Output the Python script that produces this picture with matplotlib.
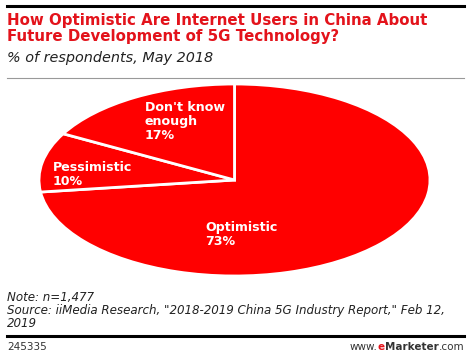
import matplotlib
matplotlib.use("Agg")
import matplotlib.pyplot as plt
from matplotlib.lines import Line2D

categories = ["Optimistic", "Pessimistic", "Don't know\nenough"]
values = [73, 10, 17]
label_pos = [(-0.15, -0.43), (-0.93, 0.20), (-0.46, 0.82)]

title = "How Optimistic Are Internet Users in China About\nFuture Development of 5G Technology?"
subtitle = "% of respondents, May 2018"
note = "Note: n=1,477\nSource: iiMedia Research, \"2018-2019 China 5G Industry Report,\" Feb 12,\n2019"

W, H = 470, 358
fig = plt.figure(figsize=(W/100, H/100), dpi=100)
fam = ["DejaVu Sans"]

def fx(px): return px / W
def fy(py): return 1 - py / H

# rules
fig.add_artist(Line2D([fx(7), fx(464)], [fy(6), fy(6)], color="black", lw=2.2))
fig.add_artist(Line2D([fx(7), fx(464)], [fy(78), fy(78)], color="#999999", lw=0.8))
fig.add_artist(Line2D([fx(7), fx(464)], [fy(336), fy(336)], color="black", lw=2.2))

fig.text(fx(7), fy(13), title, color="#e3131b", fontsize=10.8, fontweight="bold",
         va="top", ha="left", linespacing=1.1, family=fam)
fig.text(fx(7), fy(51), subtitle, color="#222222", fontsize=10.4, style="italic",
         va="top", ha="left", family=fam)
fig.text(fx(7), fy(291), note, color="#222222", fontsize=8.6, style="italic",
         va="top", ha="left", linespacing=1.0, family=fam)

fs = 7.5
yf = fy(347)
fig.text(fx(7), yf, "245335", color="#333333", fontsize=fs, va="center", ha="left", family=fam)
fig.canvas.draw()
r = fig.canvas.get_renderer()
x = fx(464)
for s, c, w in [(".com", "#333333", "normal"), ("Marketer", "#333333", "bold"),
                ("e", "#e3131b", "bold"), ("www.", "#333333", "normal")]:
    t = fig.text(x, yf, s, color=c, fontsize=fs, fontweight=w, va="center", ha="right", family=fam)
    x = t.get_window_extent(r).x0 / W

ax = fig.add_axes([fx(39), fy(276), fx(430) - fx(39), (276 - 84) / H])
ax.pie(values, startangle=90, counterclock=False, colors=["#ff0000"] * 3,
       wedgeprops=dict(edgecolor="white", linewidth=2))
ax.set_aspect("auto")
ax.set_xlim(-1, 1)
ax.set_ylim(-1, 1)
ax.axis("off")
for cat, v, (lx, ly) in zip(categories, values, label_pos):
    ax.text(lx, ly, f"{cat}\n{v}%", color="white", fontsize=9.1, fontweight="bold",
            ha="left", va="top", linespacing=1.1, family=fam)

fig.savefig("out.png", dpi=100)
